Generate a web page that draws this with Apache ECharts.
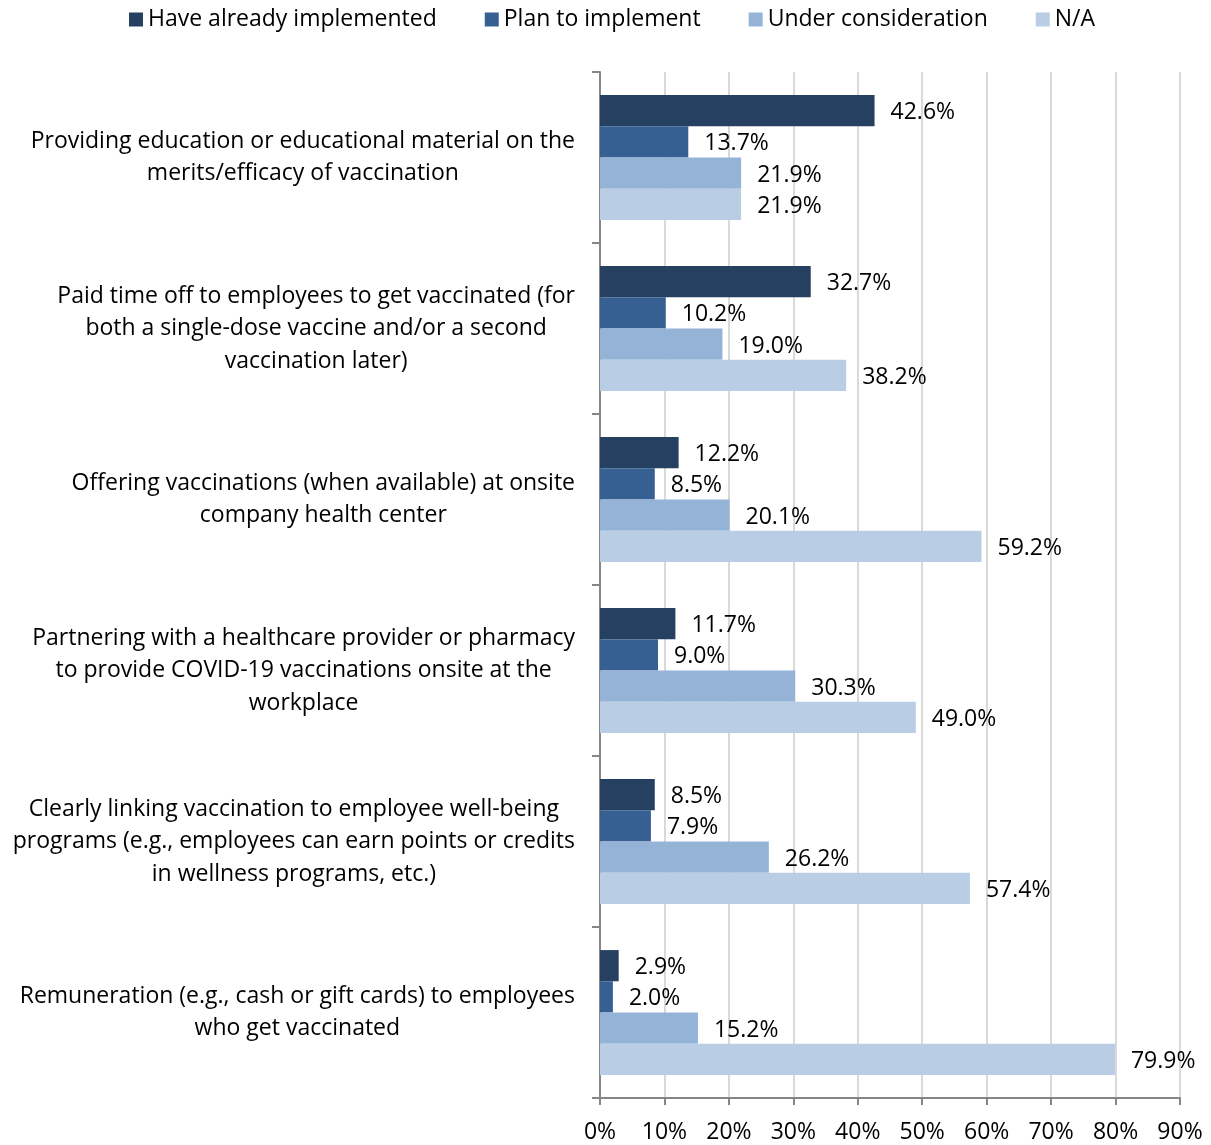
<!DOCTYPE html>
<html>
<head>
<meta charset="utf-8">
<script src="https://cdn.jsdelivr.net/npm/echarts@6/dist/echarts.min.js"></script>
<style>html,body{margin:0;padding:0;background:#fff;}#c{width:1211px;height:1145px;}</style>
</head>
<body>
<div id="c"></div>
<script>
const categories = [
  "Providing education or educational material on the\nmerits/efficacy of vaccination",
  "Paid time off to employees to get vaccinated (for\nboth a single-dose vaccine and/or a second\nvaccination later)",
  "Offering vaccinations (when available) at onsite\ncompany health center",
  "Partnering with a healthcare provider or pharmacy\nto provide COVID-19 vaccinations onsite at the\nworkplace",
  "Clearly linking vaccination to employee well-being\nprograms (e.g., employees can earn points or credits\nin wellness programs, etc.)",
  "Remuneration (e.g., cash or gift cards) to employees\nwho get vaccinated"
];
const seriesNames = ["Have already implemented", "Plan to implement", "Under consideration", "N/A"];
const alreadyImplemented = [42.6, 32.7, 12.2, 11.7, 8.5, 2.9];
const planToImplement = [13.7, 10.2, 8.5, 9.0, 7.9, 2.0];
const underConsideration = [21.9, 19.0, 20.1, 30.3, 26.2, 15.2];
const notApplicable = [21.9, 38.2, 59.2, 49.0, 57.4, 79.9];
const xTicks = [0, 10, 20, 30, 40, 50, 60, 70, 80, 90];
const colors = ["#254061", "#376092", "#95B3D7", "#B9CDE5"];

const FONT = "Open Sans";
const FS = 23;
const seriesData = [alreadyImplemented, planToImplement, underConsideration, notApplicable];

const chart = echarts.init(document.getElementById('c'), null, {renderer: 'canvas'});
chart.setOption({
  animation: false,
  backgroundColor: '#ffffff',
  textStyle: {fontFamily: FONT},
  color: colors,
  legend: {
    top: 3,
    left: 124,
    itemWidth: 14,
    itemHeight: 14,
    itemGap: 48,
    icon: 'rect',
    textStyle: {fontFamily: FONT, fontSize: FS, color: '#000'},
    data: seriesNames
  },
  grid: {left: 600, right: 31, top: 72, bottom: 47, containLabel: false},
  xAxis: {
    type: 'value',
    min: xTicks[0],
    max: xTicks[xTicks.length - 1],
    interval: 10,
    axisLine: {show: true, lineStyle: {color: '#868686', width: 2}},
    axisTick: {show: true, length: 7, lineStyle: {color: '#868686', width: 2}},
    axisLabel: {formatter: '{value}%', fontFamily: FONT, fontSize: FS, color: '#000', margin: 23},
    splitLine: {show: true, lineStyle: {color: '#d9d9d9', width: 2}}
  },
  yAxis: {
    type: 'category',
    inverse: true,
    data: categories,
    axisLine: {show: true, lineStyle: {color: '#868686', width: 2}},
    axisTick: {show: true, length: 8, lineStyle: {color: '#868686', width: 2}},
    axisLabel: {
      margin: 25,
      align: 'right',
      fontFamily: FONT,
      fontSize: FS,
      color: '#000',
      lineHeight: 32.5,
      formatter: function (v) {
        return v.split('\n').map(function (l) { return '{c|' + l + '}'; }).join('\n');
      },
      rich: {c: {align: 'center', fontFamily: FONT, fontSize: FS, color: '#000', lineHeight: 32.5}}
    },
    splitLine: {show: false}
  },
  series: seriesNames.map(function (name, i) {
    return {
      name: name,
      type: 'bar',
      data: seriesData[i],
      barGap: '0%',
      barCategoryGap: '27%',
      itemStyle: {color: colors[i]},
      label: {
        show: true,
        position: 'right',
        distance: 16,
        offset: [0, 2],
        fontFamily: FONT,
        fontSize: FS,
        color: '#000',
        formatter: function (p) { return p.value.toFixed(1) + '%'; }
      }
    };
  })
});
</script>
</body>
</html>
